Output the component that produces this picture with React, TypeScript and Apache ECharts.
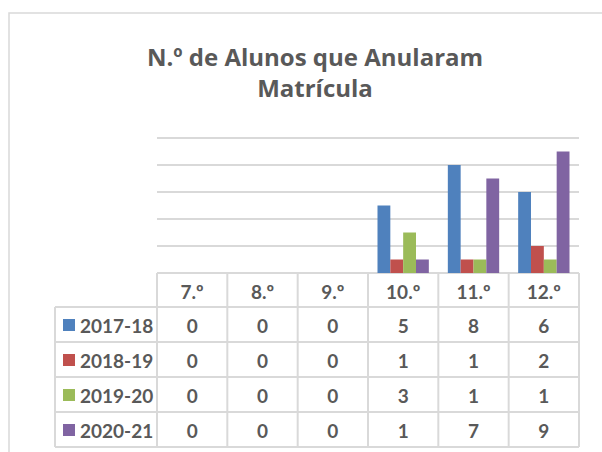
import React, { useEffect, useRef } from "react";
import * as echarts from "echarts";

const title = "N.º de Alunos que Anularam\nMatrícula";
const categories = ["7.º", "8.º", "9.º", "10.º", "11.º", "12.º"];
const seriesNames = ["2017-18", "2018-19", "2019-20", "2020-21"];
const s2017 = [0, 0, 0, 5, 8, 6];
const s2018 = [0, 0, 0, 1, 1, 2];
const s2019 = [0, 0, 0, 3, 1, 1];
const s2020 = [0, 0, 0, 1, 7, 9];
const colors = ["#4F81BD", "#C0504D", "#9BBB59", "#8064A2"];
const yMax = 10;
const yInterval = 2;

const FONT = "Lato, 'Noto Sans', sans-serif";
const TITLE_FONT = "'Open Sans', 'Noto Sans', sans-serif";
const TXT = "#595959";
const LINE = "#d9d9d9";

export default function App() {
  const ref = useRef<HTMLDivElement>(null);
  useEffect(() => {
    document.body.style.margin = "0";
    const chart = echarts.init(ref.current!, null, { renderer: "svg" });
    const W = 602;
    const H = 452;
    const gridL = 157;
    const gridR = 579;
    const gridT = 138;
    const base = 273;
    const legL = 55;
    const rows = [273, 307, 342, 377, 412, 447];
    const colW = (gridR - gridL) / categories.length;
    const values = [s2017, s2018, s2019, s2020];

    const graphics: any[] = [];
    // outer frame
    graphics.push({
      type: "rect",
      shape: { x: 9, y: 13, width: 620, height: 470 },
      style: { fill: "none", stroke: LINE, lineWidth: 1.5 },
      silent: true,
    });
    const ln = (x1: number, y1: number, x2: number, y2: number) => ({
      type: "line",
      shape: { x1, y1, x2, y2 },
      style: { stroke: LINE, lineWidth: 2 },
      silent: true,
    });
    // horizontal lines
    graphics.push(ln(gridL, rows[0], gridR, rows[0]));
    for (let r = 1; r < rows.length; r++) {
      graphics.push(ln(legL, rows[r], gridR, rows[r]));
    }
    // vertical lines
    graphics.push(ln(legL, rows[1], legL, rows[rows.length - 1]));
    for (let c = 0; c <= categories.length; c++) {
      const x = gridL + c * colW;
      graphics.push(ln(x, rows[0], x, rows[rows.length - 1]));
    }
    // header texts
    categories.forEach((cat, c) => {
      graphics.push({
        type: "text",
        x: gridL + (c + 0.5) * colW,
        y: (rows[0] + rows[1]) / 2 + 1,
        style: {
          text: cat,
          fill: TXT,
          font: `bold 19px ${FONT}`,
          textAlign: "center",
          textVerticalAlign: "middle",
        },
        silent: true,
      });
    });
    // rows
    seriesNames.forEach((name, i) => {
      const yMid = (rows[i + 1] + rows[i + 2]) / 2 + 1;
      graphics.push({
        type: "rect",
        shape: { x: 63, y: yMid - 6.5, width: 12, height: 12 },
        style: { fill: colors[i] },
        silent: true,
      });
      graphics.push({
        type: "text",
        x: 80,
        y: yMid,
        style: {
          text: name,
          fill: TXT,
          font: `bold 19px ${FONT}`,
          textAlign: "left",
          textVerticalAlign: "middle",
        },
        silent: true,
      });
      values[i].forEach((v, c) => {
        graphics.push({
          type: "text",
          x: gridL + (c + 0.5) * colW,
          y: yMid,
          style: {
            text: String(v),
            fill: TXT,
            font: `bold 19px ${FONT}`,
            textAlign: "center",
            textVerticalAlign: "middle",
          },
          silent: true,
        });
      });
    });

    chart.setOption({
      animation: false,
      backgroundColor: "#ffffff",
      title: {
        text: title,
        left: 310,
        textAlign: "center",
        top: 36,
        textStyle: {
          fontFamily: TITLE_FONT,
          fontWeight: "bold",
          fontSize: 24,
          color: TXT,
          lineHeight: 31,
        },
      },
      grid: {
        left: gridL,
        right: W - gridR,
        top: gridT,
        bottom: H - base,
        containLabel: false,
      },
      xAxis: {
        type: "category",
        data: categories,
        axisLine: { show: false },
        axisTick: { show: false },
        axisLabel: { show: false },
      },
      yAxis: {
        type: "value",
        min: 0,
        max: yMax,
        interval: yInterval,
        axisLabel: { show: false },
        axisLine: { show: false },
        axisTick: { show: false },
        splitLine: { lineStyle: { color: LINE, width: 2 } },
      },
      series: seriesNames.map((name, i) => ({
        name,
        type: "bar",
        data: values[i],
        itemStyle: { color: colors[i] },
        barGap: "0%",
        barCategoryGap: "27%",
      })),
      graphic: graphics,
    });
    return () => chart.dispose();
  }, []);
  return <div ref={ref} style={{ width: 602, height: 452 }} />;
}
